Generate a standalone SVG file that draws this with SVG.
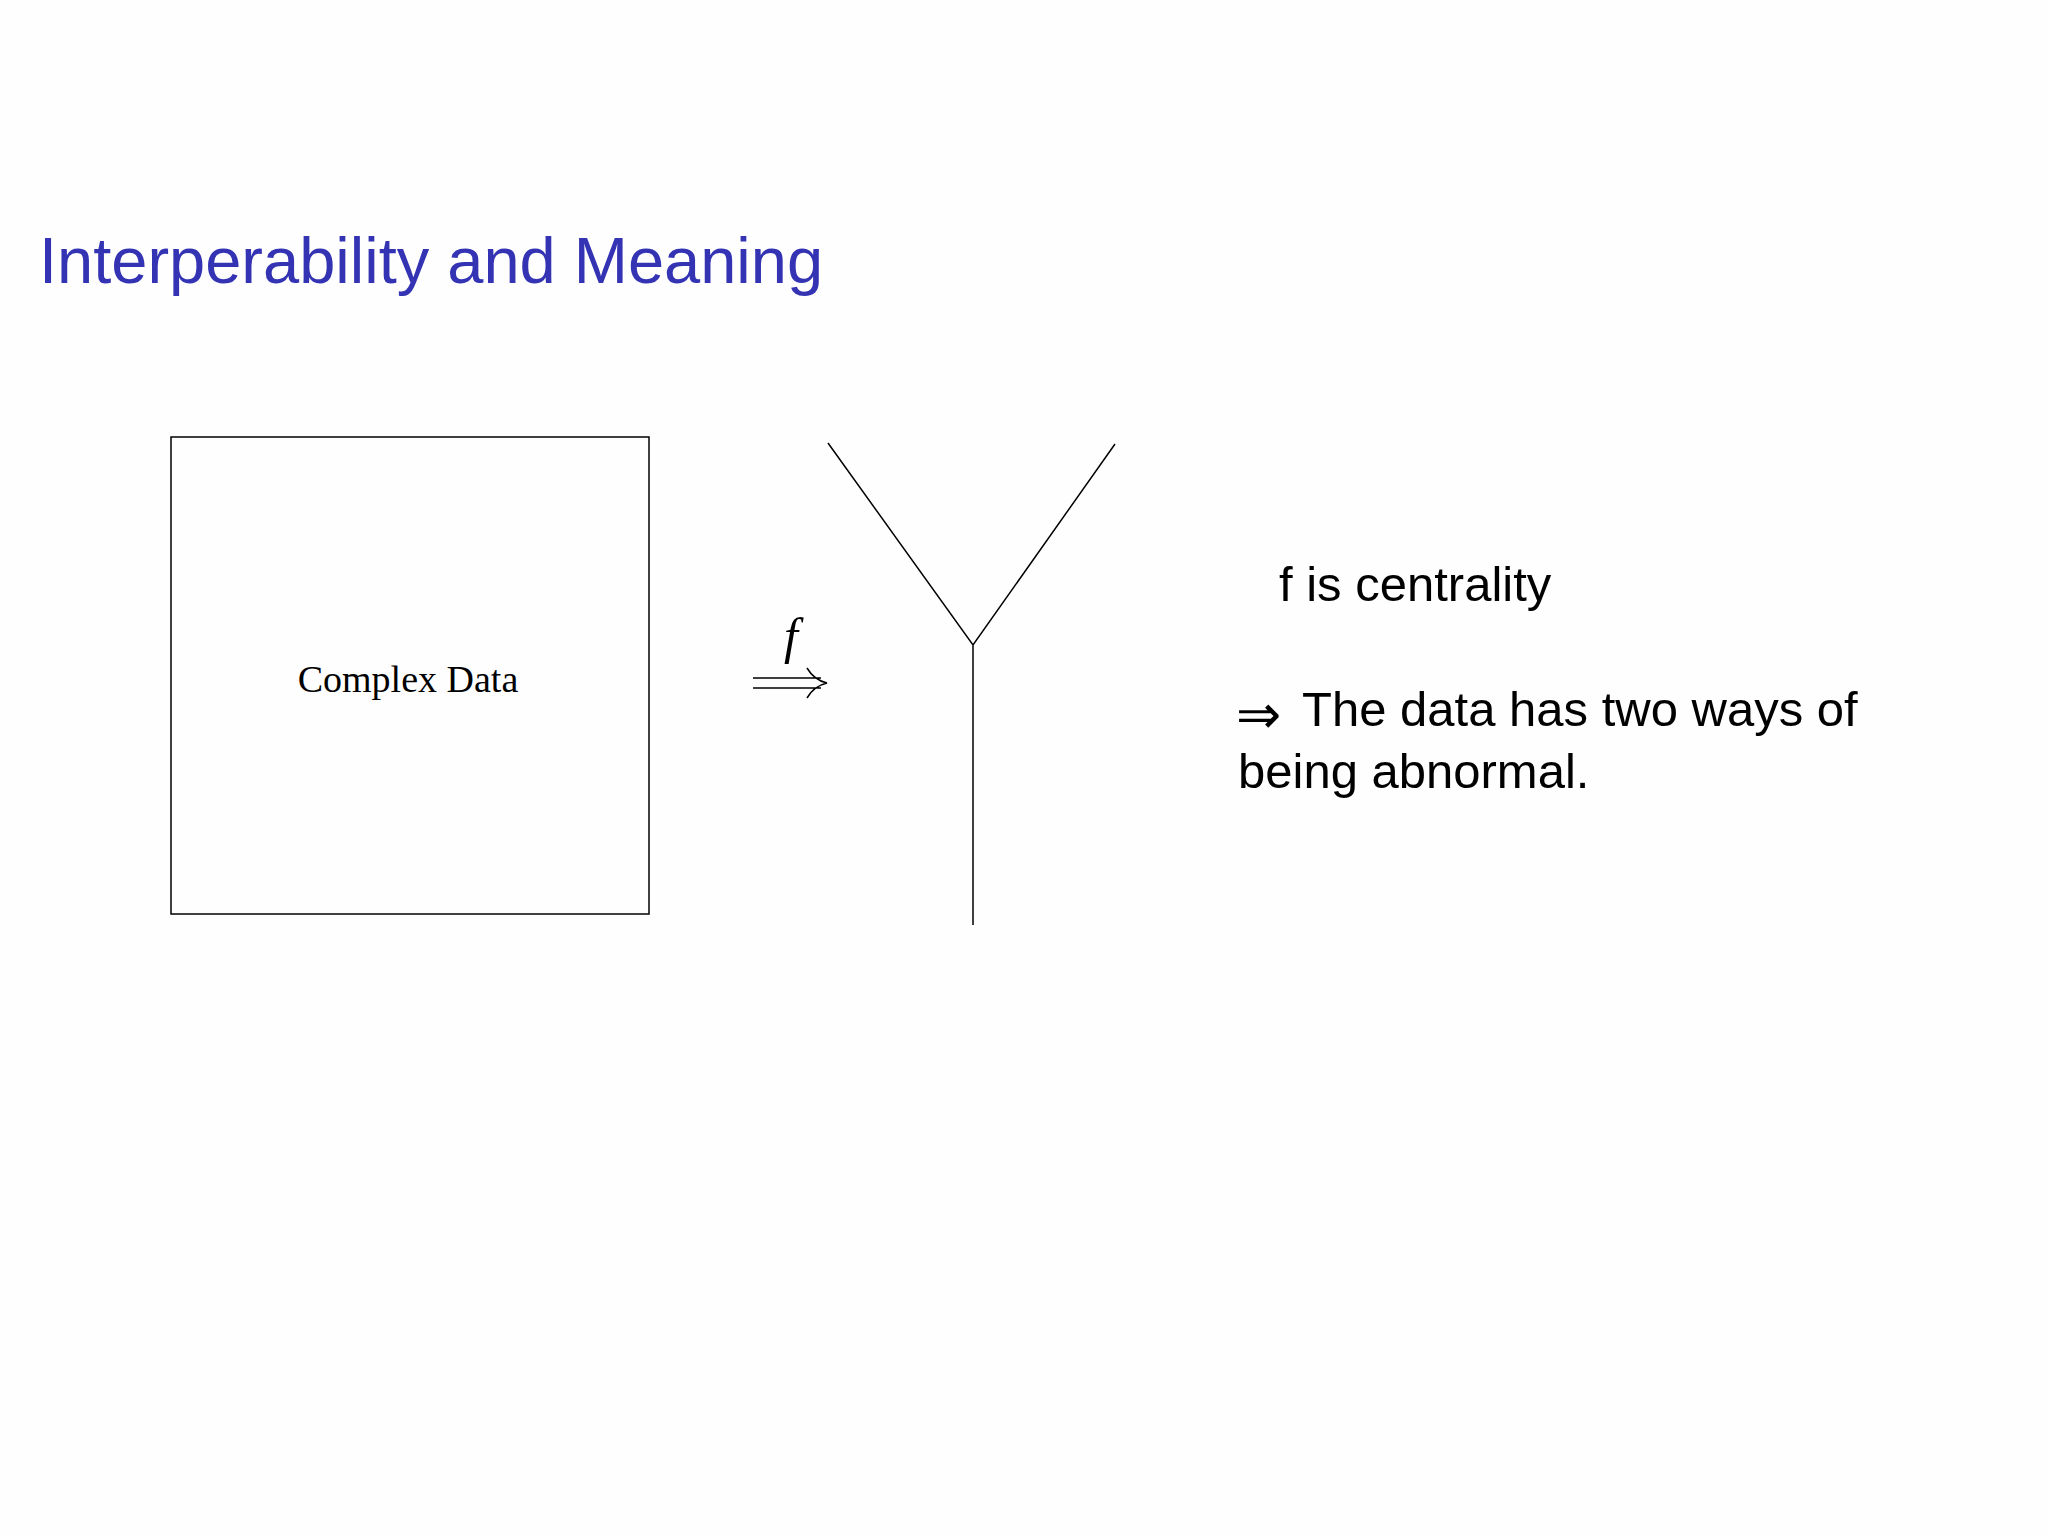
<svg xmlns="http://www.w3.org/2000/svg" width="2048" height="1536" viewBox="0 0 2048 1536">
<style>
.title{font-family:"Liberation Sans",Arial,sans-serif;font-size:65px;fill:#3333B3}
.body{font-family:"Liberation Sans",Arial,sans-serif;font-size:49px;fill:#000}
.cm{font-family:"Liberation Serif","Times New Roman",serif;fill:#000}
.sym{font-family:"DejaVu Sans",sans-serif;font-weight:200;font-size:54px;fill:#000}
.ln{stroke:#000;stroke-width:1.5;fill:none}
</style>
<rect width="2048" height="1536" fill="#FEFEFE"/>
<text class="title" x="39" y="283">Interperability and Meaning</text>
<g id="complex-data">
<rect class="ln" x="171" y="437" width="478" height="477"/>
<text class="cm" x="408" y="692" font-size="38" text-anchor="middle">Complex Data</text>
</g>
<g id="map-f">
<text class="cm" x="791" y="653" font-size="50" font-style="italic" text-anchor="middle">f</text>
<path class="ln" d="M753 678 H821 M753 688 H821 M807 668 Q814 680 827 683 Q814 686 807 698" stroke-width="2.2"/>
</g>
<g id="tree">
<path class="ln" d="M828 443 L973 645 L1115 444 M973 645 V925"/>
</g>
<g id="notes">
<text class="body" x="1279" y="601">f is centrality</text>
<text class="sym" x="1236" y="733">⇒</text>
<text class="body" x="1302" y="726">The data has two ways of</text>
<text class="body" x="1238" y="788">being abnormal.</text>
</g>
</svg>
